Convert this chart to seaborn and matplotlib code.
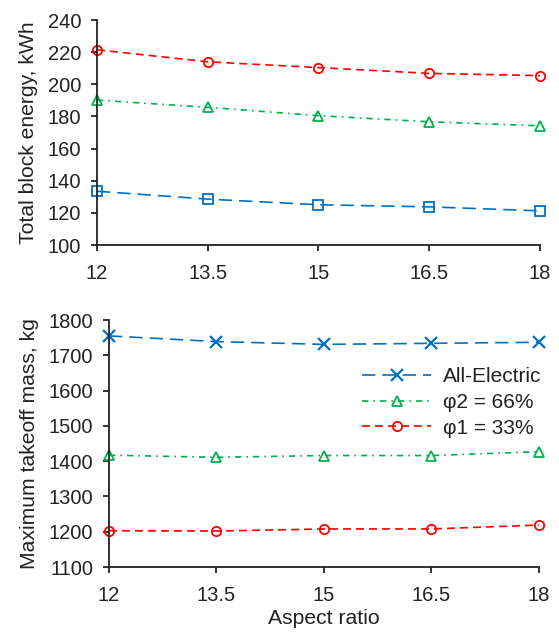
import matplotlib
matplotlib.use("Agg")
import matplotlib.pyplot as plt
import seaborn as sns
import pandas as pd

aspect_ratio = [12, 13.5, 15, 16.5, 18]
series_names = ["All-Electric", "φ2 = 66%", "φ1 = 33%"]

energy_all_electric = [133.5, 128.6, 125.1, 123.8, 121.3]
energy_phi2 = [190.2, 185.7, 180.5, 176.7, 174.2]
energy_phi1 = [221.5, 214.0, 210.4, 206.8, 205.4]

mtom_all_electric = [1755, 1739, 1731, 1734, 1737]
mtom_phi2 = [1417, 1411, 1416, 1416, 1427]
mtom_phi1 = [1203, 1202, 1208, 1208, 1219]

x_ticks = [12, 13.5, 15, 16.5, 18]
x_tick_labels = ["12", "13.5", "15", "16.5", "18"]
energy_ticks = [100, 120, 140, 160, 180, 200, 220, 240]
mtom_ticks = [1100, 1200, 1300, 1400, 1500, 1600, 1700, 1800]

sns.set_style("ticks")
plt.rcParams["font.family"] = ["Liberation Sans", "DejaVu Sans"]

TXT = "#222222"
colors = {"All-Electric": "#0070C0", "φ2 = 66%": "#00B050", "φ1 = 33%": "#FF0000"}
styles = {"All-Electric": (0, (8, 4.2)), "φ2 = 66%": (0, (3.8, 3, 1, 3)), "φ1 = 33%": (0, (4.8, 3))}
top_markers = {"All-Electric": "s", "φ2 = 66%": "^", "φ1 = 33%": "o"}
bot_markers = {"All-Electric": "x", "φ2 = 66%": "^", "φ1 = 33%": "o"}

energy = {"All-Electric": energy_all_electric, "φ2 = 66%": energy_phi2, "φ1 = 33%": energy_phi1}
mtom = {"All-Electric": mtom_all_electric, "φ2 = 66%": mtom_phi2, "φ1 = 33%": mtom_phi1}

fig = plt.figure(figsize=(5.59, 6.35), dpi=100)
ax1 = fig.add_axes([0.1735, 0.614, 0.7925, 0.3545])
ax2 = fig.add_axes([0.195, 0.107, 0.769, 0.389])

for name in series_names:
    df = pd.DataFrame({"x": aspect_ratio, "y": energy[name]})
    sns.lineplot(data=df, x="x", y="y", ax=ax1, color=colors[name], linestyle=styles[name],
                 marker=top_markers[name], markersize=6.7, markerfacecolor="none",
                 markeredgecolor=colors[name], markeredgewidth=1.3, linewidth=1.2,
                 clip_on=False, label=name, legend=False)
    df2 = pd.DataFrame({"x": aspect_ratio, "y": mtom[name]})
    mk = bot_markers[name]
    sns.lineplot(data=df2, x="x", y="y", ax=ax2, color=colors[name], linestyle=styles[name],
                 marker=mk, markersize=8.5 if mk == "x" else 6.7,
                 markerfacecolor="none", markeredgecolor=colors[name],
                 markeredgewidth=1.6 if mk == "x" else 1.3, linewidth=1.2,
                 clip_on=False, label=name, legend=False)

for ax, ticks, ylabel in [(ax1, energy_ticks, "Total block energy, kWh"),
                          (ax2, mtom_ticks, "Maximum takeoff mass, kg")]:
    ax.set_xlim(12, 18)
    ax.set_ylim(ticks[0], ticks[-1])
    ax.set_xticks(x_ticks)
    ax.set_xticklabels(x_tick_labels)
    ax.set_yticks(ticks)
    ax.set_ylabel(ylabel, fontsize=15.2, color=TXT, labelpad=7)
    ax.set_xlabel("")
    ax.tick_params(axis="both", labelsize=14.5, direction="out", length=4.5, width=1.3,
                   colors=TXT)
    ax.tick_params(axis="y", pad=7)
    ax.tick_params(axis="x", pad=9)
    for s in ["top", "right"]:
        ax.spines[s].set_visible(False)
    for s in ["left", "bottom"]:
        ax.spines[s].set_linewidth(1.3)
        ax.spines[s].set_color(TXT)

ax2.set_xlabel("Aspect ratio", fontsize=15.2, color=TXT, labelpad=3)

handles, labels = ax2.get_legend_handles_labels()
leg = ax2.legend(handles, labels, loc="upper right", bbox_to_anchor=(1.005, 0.81),
                 frameon=False, fontsize=15, handlelength=3.3, labelspacing=0.33,
                 handletextpad=0.55, borderaxespad=0, borderpad=0)
for t in leg.get_texts():
    t.set_color(TXT)

fig.savefig("out.png", dpi=100)
